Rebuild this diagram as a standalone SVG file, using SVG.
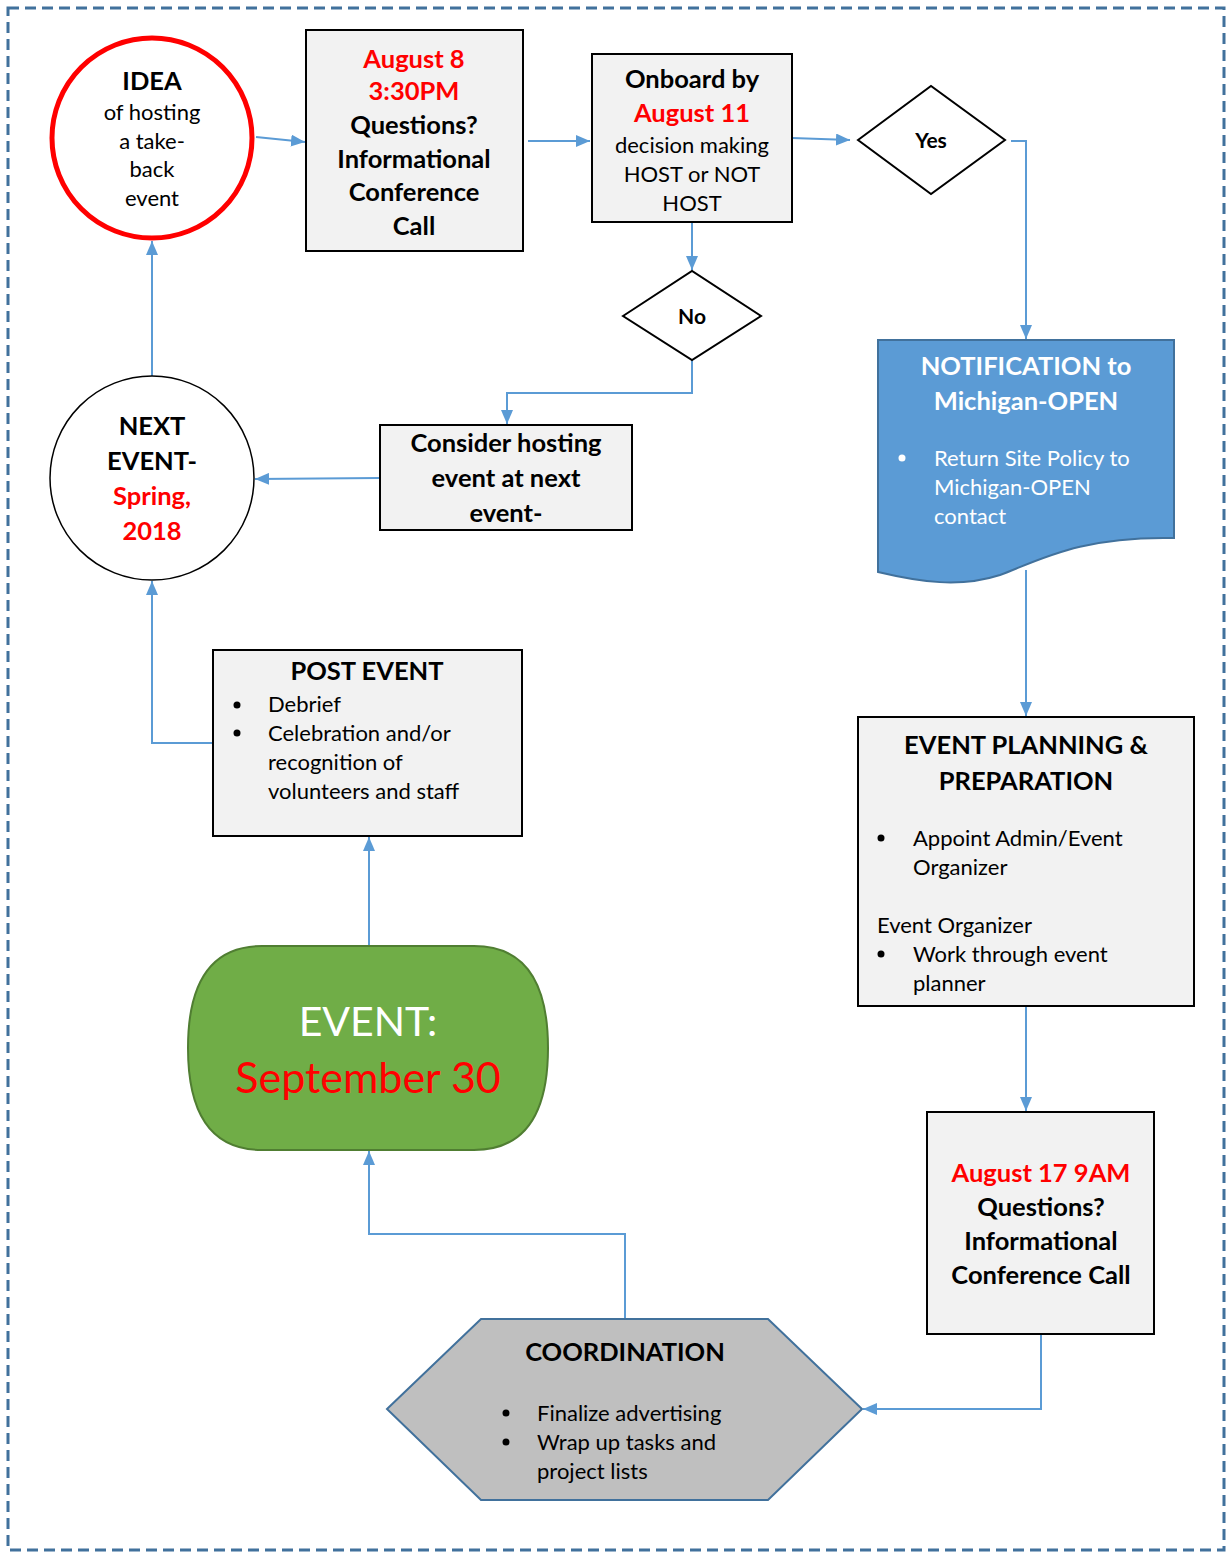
<svg xmlns="http://www.w3.org/2000/svg" width="1228" height="1553" viewBox="0 0 1228 1553">
<defs>
<marker id="ah" viewBox="0 0 14 12" refX="14" refY="6" markerWidth="14" markerHeight="12" markerUnits="userSpaceOnUse" orient="auto">
<path d="M0,0 L14,6 L0,12 Z" fill="#5b9bd5"/>
</marker>
<style>
text{font-family:Lato,"Open Sans","Liberation Sans",sans-serif;}
.b{font-weight:bold;font-size:25.5px;fill:#000;}
.r{fill:#ff0000;}
.n{font-size:22px;fill:#000;}
.w{fill:#fff;}
.box{fill:#f2f2f2;stroke:#000;stroke-width:2;}
.c{text-anchor:middle;}
.con{fill:none;stroke:#5b9bd5;stroke-width:2;marker-end:url(#ah);}
</style>
</defs>
<rect width="1228" height="1553" fill="#fff"/>
<rect x="8" y="8" width="1216" height="1542" fill="none" stroke="#41719c" stroke-width="3" stroke-dasharray="11,6"/>

<g id="connectors">
<path class="con" d="M256,137 L305,142"/>
<path class="con" d="M528,141 L590,141"/>
<path class="con" d="M792,138 L850,140"/>
<path class="con" d="M1011,141 L1026,141 L1026,339"/>
<path class="con" d="M692,222 L692,270"/>
<path class="con" d="M692,360 L692,393 L507,393 L507,424"/>
<path class="con" d="M380,478 L255,479"/>
<path class="con" d="M152,376 L152,241"/>
<path class="con" d="M213,743 L152,743 L152,581"/>
<path class="con" d="M1026,570 L1026,716"/>
<path class="con" d="M1026,1006 L1026,1111"/>
<path class="con" d="M1041,1334 L1041,1409 L863,1409"/>
<path class="con" d="M625,1319 L625,1234 L369,1234 L369,1151"/>
<path class="con" d="M369,946 L369,837"/>
</g>

<g id="idea">
<circle cx="152" cy="138" r="100" fill="#fff" stroke="#ff0000" stroke-width="5"/>
<text class="b c" x="152" y="90">IDEA</text>
<text class="n c" x="152" y="120">of hosting</text>
<text class="n c" x="152" y="149">a take-</text>
<text class="n c" x="152" y="177">back</text>
<text class="n c" x="152" y="206">event</text>
</g>

<g id="aug8">
<rect class="box" x="306" y="30" width="217" height="221"/>
<text class="b c r" x="414" y="68">August 8</text>
<text class="b c r" x="414" y="100">3:30PM</text>
<text class="b c" x="414" y="134">Questions?</text>
<text class="b c" x="414" y="168">Informational</text>
<text class="b c" x="414" y="201">Conference</text>
<text class="b c" x="414" y="235">Call</text>
</g>

<g id="onboard">
<rect class="box" x="592" y="54" width="200" height="168"/>
<text class="b c" x="692" y="88">Onboard by</text>
<text class="b c r" x="692" y="122">August 11</text>
<text class="n c" x="692" y="153">decision making</text>
<text class="n c" x="692" y="182">HOST or NOT</text>
<text class="n c" x="692" y="211">HOST</text>
</g>

<g id="yes">
<polygon points="858,140 931,86 1005,140 931,194" fill="#fff" stroke="#000" stroke-width="2"/>
<text class="c" x="931" y="148" font-size="21" font-weight="bold">Yes</text>
</g>

<g id="no">
<polygon points="623,316 692,271 761,316 692,360" fill="#fff" stroke="#000" stroke-width="2"/>
<text class="c" x="692" y="324" font-size="21" font-weight="bold">No</text>
</g>

<g id="notification">
<path d="M878,340 L1174,340 L1174,538 C1080,536 1040,560 1000,575 C960,588 920,582 878,572 Z" fill="#5b9bd5" stroke="#41719c" stroke-width="2"/>
<text class="b c w" x="1026" y="375">NOTIFICATION to</text>
<text class="b c w" x="1026" y="410">Michigan-OPEN</text>
<circle cx="902" cy="458" r="3.5" fill="#fff"/>
<text class="n w" x="934" y="466">Return Site Policy to</text>
<text class="n w" x="934" y="495">Michigan-OPEN</text>
<text class="n w" x="934" y="524">contact</text>
</g>

<g id="consider">
<rect class="box" x="380" y="425" width="252" height="105"/>
<text class="b c" x="506" y="452">Consider hosting</text>
<text class="b c" x="506" y="487">event at next</text>
<text class="b c" x="506" y="522">event-</text>
</g>

<g id="next-event">
<ellipse cx="152" cy="478" rx="102" ry="102" fill="#fff" stroke="#000" stroke-width="1.5"/>
<text class="b c" x="152" y="435">NEXT</text>
<text class="b c" x="152" y="470">EVENT-</text>
<text class="b c r" x="152" y="505">Spring,</text>
<text class="b c r" x="152" y="540">2018</text>
</g>

<g id="post-event">
<rect class="box" x="213" y="650" width="309" height="186"/>
<text class="b c" x="367" y="680">POST EVENT</text>
<circle cx="237" cy="705" r="3.5" fill="#000"/>
<text class="n" x="268" y="712">Debrief</text>
<circle cx="237" cy="733" r="3.5" fill="#000"/>
<text class="n" x="268" y="741">Celebration and/or</text>
<text class="n" x="268" y="770">recognition of</text>
<text class="n" x="268" y="799">volunteers and staff</text>
</g>

<g id="planning">
<rect class="box" x="858" y="717" width="336" height="289"/>
<text class="b c" x="1026" y="754">EVENT PLANNING &amp;</text>
<text class="b c" x="1026" y="790">PREPARATION</text>
<circle cx="881" cy="838" r="3.5" fill="#000"/>
<text class="n" x="913" y="846">Appoint Admin/Event</text>
<text class="n" x="913" y="875">Organizer</text>
<text class="n" x="877" y="933">Event Organizer</text>
<circle cx="881" cy="954" r="3.5" fill="#000"/>
<text class="n" x="913" y="962">Work through event</text>
<text class="n" x="913" y="991">planner</text>
</g>

<g id="aug17">
<rect class="box" x="927" y="1112" width="227" height="222"/>
<text class="b c r" x="1041" y="1182">August 17 9AM</text>
<text class="b c" x="1041" y="1216">Questions?</text>
<text class="b c" x="1041" y="1250">Informational</text>
<text class="b c" x="1041" y="1284">Conference Call</text>
</g>

<g id="coordination">
<polygon points="387,1409 481,1319 768,1319 862,1409 768,1500 481,1500" fill="#bfbfbf" stroke="#41719c" stroke-width="2"/>
<text class="b c" x="625" y="1361">COORDINATION</text>
<circle cx="506" cy="1413" r="3.5" fill="#000"/>
<text class="n" x="537" y="1421">Finalize advertising</text>
<circle cx="506" cy="1442" r="3.5" fill="#000"/>
<text class="n" x="537" y="1450">Wrap up tasks and</text>
<text class="n" x="537" y="1479">project lists</text>
</g>

<g id="event">
<path d="M262,946 L474,946 Q548,946 548,1048 Q548,1150 474,1150 L262,1150 Q188,1150 188,1048 Q188,946 262,946 Z" fill="#70ad47" stroke="#507e32" stroke-width="2"/>
<text class="c w" x="368" y="1036" font-size="41">EVENT:</text>
<text class="c r" x="368" y="1093" font-size="43">September 30</text>
</g>
</svg>
